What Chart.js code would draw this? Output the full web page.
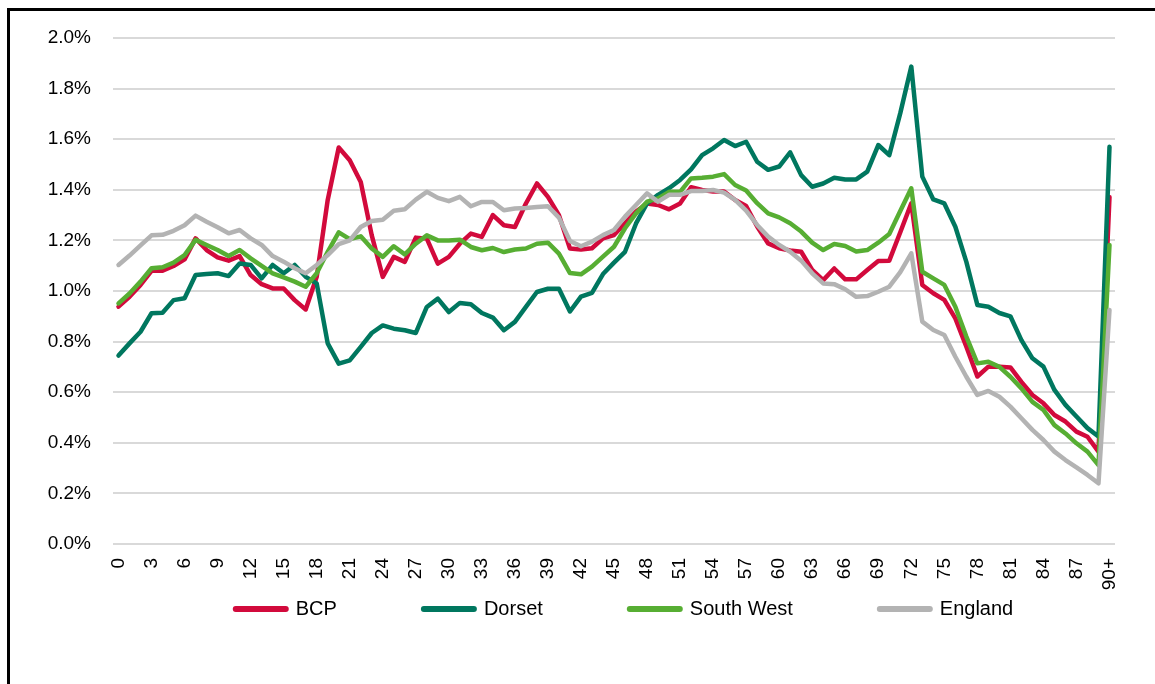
<!DOCTYPE html>
<html>
<head>
<meta charset="utf-8">
<script src="https://cdn.jsdelivr.net/npm/chart.js@4/dist/chart.umd.min.js"></script>
<style>
  html, body { margin: 0; padding: 0; background: #fff; }
  #wrap { position: relative; width: 1155px; height: 684px; overflow: hidden; }
  #frame { position: absolute; left: 7px; top: 8px; width: 1200px; height: 700px;
           border-top: 3px solid #000; border-left: 3px solid #000; pointer-events: none; }
  canvas { display: block; }
</style>
</head>
<body>
<div id="wrap">
  <canvas id="c" width="1155" height="684"></canvas>
  <div id="frame"></div>
</div>
<script>
const ages = [];
for (let a = 0; a < 90; a++) ages.push(String(a));
ages.push('90+');

const seriesNames = ['BCP', 'Dorset', 'South West', 'England'];
const seriesColors = ['#D20A3C', '#00775F', '#57AE33', '#B3B3B3'];

const bcp = [0.938,0.977,1.024,1.08,1.08,1.099,1.125,1.208,1.162,1.133,
  1.12,1.138,1.063,1.027,1.01,1.01,0.964,0.927,1.056,1.36,
  1.567,1.517,1.431,1.22,1.056,1.135,1.115,1.211,1.207,1.108,
  1.135,1.187,1.227,1.214,1.30,1.26,1.253,1.346,1.425,1.372,
  1.30,1.168,1.164,1.169,1.208,1.221,1.268,1.314,1.346,1.34,
  1.323,1.346,1.41,1.399,1.393,1.393,1.36,1.336,1.255,1.188,
  1.169,1.16,1.155,1.083,1.043,1.089,1.046,1.046,1.083,1.119,
  1.12,1.232,1.347,1.024,0.991,0.965,0.892,0.78,0.662,0.701,
  0.701,0.698,0.641,0.589,0.556,0.51,0.484,0.444,0.424,0.365,
  1.372];

const dorset = [0.745,0.793,0.839,0.912,0.914,0.964,0.971,1.063,1.067,1.07,
  1.059,1.109,1.103,1.05,1.103,1.07,1.103,1.056,1.03,0.793,
  0.713,0.726,0.779,0.834,0.864,0.851,0.845,0.834,0.937,0.97,
  0.917,0.953,0.948,0.913,0.895,0.845,0.878,0.937,0.996,1.009,
  1.009,0.919,0.978,0.993,1.067,1.112,1.155,1.267,1.346,1.38,
  1.406,1.439,1.481,1.537,1.564,1.597,1.573,1.59,1.511,1.479,
  1.492,1.548,1.458,1.412,1.425,1.448,1.441,1.441,1.472,1.577,
  1.537,1.703,1.887,1.452,1.362,1.346,1.254,1.115,0.945,0.938,
  0.913,0.9,0.806,0.734,0.701,0.609,0.55,0.504,0.458,0.425,
  1.57];

const southWest = [0.951,0.99,1.037,1.09,1.094,1.112,1.142,1.202,1.182,1.162,
  1.138,1.162,1.129,1.099,1.07,1.054,1.037,1.017,1.07,1.155,
  1.232,1.205,1.216,1.168,1.135,1.177,1.145,1.187,1.22,1.2,
  1.2,1.203,1.174,1.161,1.17,1.154,1.164,1.168,1.187,1.191,
  1.148,1.071,1.066,1.096,1.136,1.175,1.248,1.307,1.353,1.366,
  1.392,1.392,1.445,1.448,1.452,1.462,1.419,1.397,1.347,1.307,
  1.291,1.268,1.235,1.191,1.162,1.186,1.178,1.156,1.162,1.191,
  1.225,1.316,1.406,1.076,1.05,1.024,0.938,0.82,0.714,0.72,
  0.7,0.661,0.615,0.562,0.53,0.47,0.437,0.398,0.365,0.312,
  1.182];

const england = [1.103,1.14,1.18,1.22,1.222,1.238,1.26,1.298,1.274,1.252,
  1.228,1.241,1.208,1.182,1.138,1.116,1.09,1.07,1.103,1.142,
  1.185,1.20,1.253,1.277,1.282,1.317,1.323,1.361,1.392,1.368,
  1.355,1.372,1.335,1.352,1.352,1.319,1.326,1.328,1.332,1.335,
  1.29,1.198,1.177,1.195,1.221,1.241,1.294,1.34,1.386,1.353,
  1.38,1.38,1.395,1.395,1.399,1.389,1.36,1.318,1.261,1.215,
  1.182,1.155,1.12,1.07,1.03,1.027,1.007,0.977,0.98,0.997,
  1.017,1.075,1.149,0.879,0.846,0.826,0.74,0.661,0.589,0.605,
  0.582,0.543,0.497,0.451,0.411,0.365,0.332,0.303,0.273,0.24,
  0.925];

const seriesValues = [bcp, dorset, southWest, england];

const FONT = "'Liberation Sans', Arial, sans-serif";

const datasets = seriesNames.map((name, i) => ({
  label: name,
  data: seriesValues[i],
  borderColor: seriesColors[i],
  backgroundColor: seriesColors[i],
  borderWidth: 4.5,
  pointRadius: 0,
  pointHoverRadius: 0,
  pointStyle: 'line',
  tension: 0,
  borderJoinStyle: 'round',
  borderCapStyle: 'round',
  order: seriesNames.length - i
}));

const legendShift = {
  id: 'legendShift',
  afterLayout(chart) {
    const l = chart.legend;
    if (!l) return;
    const dx = 67, dy = -82;
    l.left += dx; l.right += dx;
    l.top += dy;
    l.bottom = chart.height;
    l.height = l.bottom - l.top;
  }
};

new Chart(document.getElementById('c'), {
  type: 'line',
  data: { labels: ages, datasets },
  plugins: [legendShift],
  options: {
    responsive: false,
    animation: false,
    events: [],
    layout: { padding: { left: 0, right: 40, top: 38, bottom: 0 } },
    plugins: {
      tooltip: { enabled: false },
      legend: {
        position: 'bottom',
        align: 'center',
        maxHeight: 90,
        labels: {
          usePointStyle: true,
          pointStyleWidth: 50,
          padding: 87,
          color: '#000',
          font: { family: FONT, size: 20 },
          generateLabels(chart) {
            const items = Chart.defaults.plugins.legend.labels.generateLabels(chart);
            items.sort((a, b) => a.datasetIndex - b.datasetIndex);
            items.forEach(it => {
              const c = seriesColors[it.datasetIndex];
              it.pointStyle = 'line';
              it.lineWidth = 6;
              it.lineCap = 'round';
              it.strokeStyle = c;
              it.fillStyle = c;
            });
            return items;
          }
        }
      }
    },
    scales: {
      x: {
        type: 'category',
        offset: true,
        grid: { display: false, drawTicks: false },
        border: { display: false },
        afterFit(scale) { scale.height = 50; },
        ticks: {
          autoSkip: false,
          maxRotation: 90,
          minRotation: 90,
          padding: 14,
          color: '#000',
          font: { family: FONT, size: 19 },
          callback(value, index) { return index % 3 === 0 ? ages[index] : ''; }
        }
      },
      y: {
        min: 0,
        max: 2,
        grid: { color: '#D9D9D9', lineWidth: 2, drawTicks: false },
        border: { display: false },
        afterFit(scale) { scale.width = 113; },
        ticks: {
          stepSize: 0.2,
          padding: 22,
          color: '#000',
          font: { family: FONT, size: 19 },
          callback(v) { return v.toFixed(1) + '%'; }
        }
      }
    }
  }
});
</script>
</body>
</html>
